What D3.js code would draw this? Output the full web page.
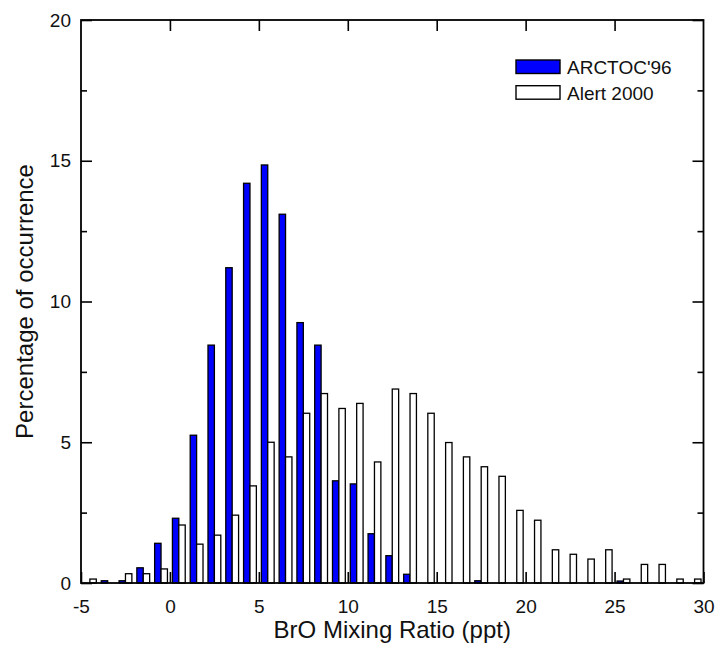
<!DOCTYPE html>
<html>
<head>
<meta charset="utf-8">
<script src="https://cdn.jsdelivr.net/npm/d3@7"></script>
<style>
  body { margin: 0; background: #fff; }
  svg text { font-family: "Liberation Sans", Arial, sans-serif; fill: #111; }
</style>
</head>
<body>
<div id="chart"></div>
<script>
// Bin centres (ppt) and percentage of occurrence per campaign
const bins = [-4.5, -3.5, -2.5, -1.5, -0.5, 0.5, 1.5, 2.5, 3.5, 4.5,
    5.5, 6.5, 7.5, 8.5, 9.5, 10.5, 11.5, 12.5, 13.5, 14.5,
    15.5, 16.5, 17.5, 18.5, 19.5, 20.5, 21.5, 22.5, 23.5, 24.5,
    25.5, 26.5, 27.5, 28.5, 29.5];

const arctoc96 = [0, 0.08, 0.08, 0.54, 1.41, 2.30, 5.25, 8.45, 11.2, 14.2,
    14.85, 13.1, 9.25, 8.45, 3.63, 3.52, 1.75, 0.97, 0.31, 0,
    0, 0, 0.08, 0, 0, 0, 0, 0, 0, 0,
    0.07, 0, 0, 0, 0];

const alert2000 = [0.14, 0, 0.33, 0.33, 0.50, 2.06, 1.38, 1.70, 2.41, 3.45,
    5.0, 4.48, 6.03, 6.73, 6.20, 6.38, 4.30, 6.89, 6.73, 6.03,
    4.99, 4.48, 4.13, 3.79, 2.58, 2.23, 1.18, 1.02, 0.85, 1.18,
    0.14, 0.66, 0.66, 0.14, 0.14];

const xTicks = [-5, 0, 5, 10, 15, 20, 25, 30];
const yTicks = [0, 5, 10, 15, 20];
const yMinorTicks = [2.5, 7.5, 12.5, 17.5];
const seriesNames = ["ARCTOC'96", "Alert 2000"];
const seriesColors = ['#0000ff', '#ffffff'];

const width = 717, height = 664;
const plotLeft = 81, plotRight = 703.5, plotTop = 20, plotBottom = 583;
const barW = 0.36; // in ppt units

const svg = d3.select('#chart')
    .append('svg')
    .attr('width', width)
    .attr('height', height);

const x = d3.scaleLinear().domain([-5, 30]).range([plotLeft, plotRight]);
const y = d3.scaleLinear().domain([0, 20]).range([plotBottom, plotTop]);

// Bars: blue on the left half of each bin, white on the right half
const series = [arctoc96, alert2000];
series.forEach((vals, si) => {
    const data = bins.map((b, i) => ({ b, v: vals[i] })).filter(d => d.v > 0);
    svg.append('g')
        .selectAll('rect')
        .data(data)
        .enter()
        .append('rect')
        .attr('x', d => si === 0 ? x(d.b - barW) : x(d.b))
        .attr('width', d => x(d.b + barW) - x(d.b))
        .attr('y', d => y(d.v))
        .attr('height', d => y(0) - y(d.v))
        .style('fill', seriesColors[si])
        .style('stroke', '#000')
        .style('stroke-width', '1.3px');
});

// Axes with inward ticks
const fmt = d => String(d);

svg.append('g')
    .attr('transform', `translate(0, ${plotBottom})`)
    .call(d3.axisBottom(x).tickValues(xTicks).tickFormat(fmt)
        .tickSizeInner(-11).tickSizeOuter(0).tickPadding(17));

svg.append('g')
    .attr('transform', `translate(${plotLeft}, 0)`)
    .call(d3.axisLeft(y).tickValues(yTicks).tickFormat(fmt)
        .tickSizeInner(-11).tickSizeOuter(0).tickPadding(10));

svg.append('g')
    .attr('transform', `translate(${plotLeft}, 0)`)
    .call(d3.axisLeft(y).tickValues(yMinorTicks).tickFormat('')
        .tickSizeInner(-6).tickSizeOuter(0));

svg.append('g')
    .attr('transform', `translate(${plotRight}, 0)`)
    .call(d3.axisRight(y).tickValues(yTicks).tickFormat('')
        .tickSizeInner(-11).tickSizeOuter(0));

svg.append('g')
    .attr('transform', `translate(${plotRight}, 0)`)
    .call(d3.axisRight(y).tickValues(yMinorTicks).tickFormat('')
        .tickSizeInner(-6).tickSizeOuter(0));

svg.append('g')
    .attr('transform', `translate(0, ${plotTop})`)
    .call(d3.axisTop(x).tickValues(xTicks.slice(1, -1)).tickFormat('')
        .tickSizeInner(-11).tickSizeOuter(0));

svg.selectAll('.domain').remove();
svg.selectAll('.tick line').style('stroke', '#000').style('stroke-width', '1.6px');
svg.selectAll('.tick text')
    .style('font-size', '19px')
    .style('font-family', '"Liberation Sans", Arial, sans-serif')
    .style('fill', '#111');

// Frame
svg.append('rect')
    .attr('x', plotLeft)
    .attr('y', plotTop)
    .attr('width', plotRight - plotLeft)
    .attr('height', plotBottom - plotTop)
    .style('fill', 'none')
    .style('stroke', '#000')
    .style('stroke-width', '1.8px');

// Axis titles
svg.append('text')
    .attr('x', (plotLeft + plotRight) / 2)
    .attr('y', 638)
    .attr('text-anchor', 'middle')
    .style('font-size', '24px')
    .text('BrO Mixing Ratio (ppt)');

svg.append('text')
    .attr('transform', `translate(33, ${(plotTop + plotBottom) / 2}) rotate(-90)`)
    .attr('text-anchor', 'middle')
    .style('font-size', '24px')
    .text('Percentage of occurrence');

// Legend
const legend = svg.append('g')
    .attr('transform', 'translate(516, 60)');

const item = legend.selectAll('g')
    .data(seriesNames)
    .enter()
    .append('g')
    .attr('transform', (d, i) => `translate(0, ${i * 25.7})`);

item.append('rect')
    .attr('width', 44)
    .attr('height', 13.5)
    .style('fill', (d, i) => seriesColors[i])
    .style('stroke', '#000')
    .style('stroke-width', '1.4px');

item.append('text')
    .attr('x', 51)
    .attr('y', 14)
    .style('font-size', '19px')
    .text(d => d);
</script>
</body>
</html>
